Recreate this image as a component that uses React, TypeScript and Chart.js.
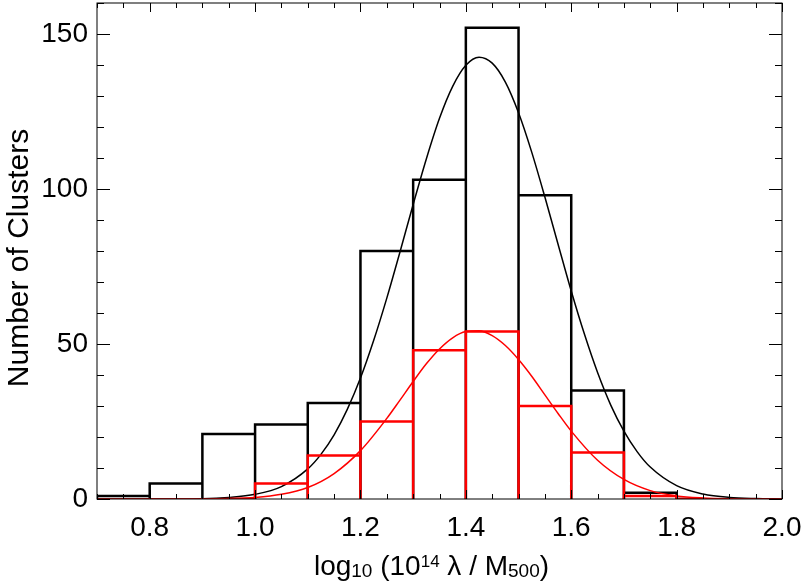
import React, { useEffect, useRef } from "react";
import { Chart, registerables } from "chart.js";

Chart.register(...registerables);

// ---- data ----
const totalEdges = [0.7, 0.8, 0.9, 1.0, 1.1, 1.2, 1.3, 1.4, 1.5, 1.6, 1.7, 1.8, 1.85];
const totalCounts = [1, 5, 21, 24, 31, 80, 103, 152, 98, 35, 2, 0];

const redEdges = [0.95, 1.0, 1.1, 1.2, 1.3, 1.4, 1.5, 1.6, 1.7, 1.8, 1.85];
const redCounts = [0, 5, 14, 25, 48, 54, 30, 15, 1, 0];

const totalFitX = [0.70, 0.80, 0.90, 0.95, 1.00, 1.05, 1.10, 1.125, 1.15, 1.175, 1.20, 1.225, 1.25, 1.275, 1.30, 1.325, 1.35, 1.375, 1.40, 1.425, 1.45, 1.475, 1.50, 1.525, 1.55, 1.575, 1.60, 1.625, 1.65, 1.675, 1.70, 1.725, 1.75, 1.80, 1.85, 1.90, 1.95, 2.00];
const totalFitY = [0, 0, 0.1, 0.5, 1.5, 4.0, 9.7, 14.4, 20.7, 28.9, 39.0, 51.1, 64.8, 79.7, 95.0, 109.7, 122.8, 133.1, 139.9, 142.5, 140.6, 134.5, 124.6, 111.9, 97.4, 82.2, 67.1, 53.2, 40.8, 30.3, 21.9, 15.3, 10.3, 4.3, 1.6, 0.5, 0.15, 0.04];

const redFitX = [0.70, 0.80, 0.90, 0.95, 1.00, 1.05, 1.10, 1.15, 1.20, 1.25, 1.275, 1.30, 1.325, 1.35, 1.375, 1.40, 1.425, 1.45, 1.475, 1.50, 1.525, 1.55, 1.575, 1.60, 1.65, 1.70, 1.75, 1.80, 1.85, 1.90, 1.95, 2.00];
const redFitY = [0, 0, 0.04, 0.16, 0.5, 1.5, 3.7, 8.2, 15.6, 26.0, 31.9, 37.9, 43.6, 48.4, 52.0, 54.0, 54.3, 52.7, 49.5, 45.0, 39.6, 33.6, 27.6, 21.9, 12.5, 6.3, 2.7, 1.0, 0.35, 0.1, 0.03, 0.01];

const xTickValues = [0.8, 1.0, 1.2, 1.4, 1.6, 1.8, 2.0];
const yTickValues = [0, 50, 100, 150];
const xMin = 0.7;
const xMax = 2.0;
const yMin = 0;
const yMax = 160;
const xMinorStep = 0.05;
const yMinorStep = 10;

const yTitle = "Number of Clusters";
// x title pieces: [text, kind] kind: n normal, sub subscript, sup superscript
const xTitleParts: [string, string][] = [
  ["log", "n"],
  ["10", "sub"],
  [" (10", "n"],
  ["14", "sup"],
  [" λ / M", "n"],
  ["500", "sub"],
  [")", "n"],
];

const FONT = "'Liberation Sans', Helvetica, Arial, sans-serif";

function boxPath(edges: number[], counts: number[]) {
  const pts: { x: number; y: number }[] = [];
  for (let i = 0; i < counts.length; i++) {
    pts.push({ x: edges[i], y: 0 });
    pts.push({ x: edges[i], y: counts[i] });
    pts.push({ x: edges[i + 1], y: counts[i] });
    pts.push({ x: edges[i + 1], y: 0 });
  }
  return pts;
}

function zip(xs: number[], ys: number[]) {
  return xs.map((x, i) => ({ x, y: ys[i] }));
}

const framePlugin = {
  id: "frameTicks",
  afterDraw(chart: any) {
    const { ctx, chartArea: a, scales } = chart;
    const xs = scales.x;
    const ys = scales.y;
    ctx.save();
    ctx.strokeStyle = "#000";
    ctx.lineWidth = 1;
    ctx.strokeRect(a.left, a.top, a.right - a.left, a.bottom - a.top);

    // x ticks (bottom & top, inward)
    const nx = Math.round((xMax - xMin) / xMinorStep);
    for (let i = 0; i <= nx; i++) {
      const v = xMin + i * xMinorStep;
      const major = xTickValues.some((t) => Math.abs(t - v) < 1e-6);
      const len = major ? 9 : 5;
      const px = Math.round(xs.getPixelForValue(v)) + 0.5;
      ctx.beginPath();
      ctx.moveTo(px, a.bottom);
      ctx.lineTo(px, a.bottom - len);
      ctx.moveTo(px, a.top);
      ctx.lineTo(px, a.top + len);
      ctx.stroke();
    }
    // y ticks (left & right, inward)
    const ny = Math.round((yMax - yMin) / yMinorStep);
    for (let i = 0; i <= ny; i++) {
      const v = yMin + i * yMinorStep;
      const major = yTickValues.some((t) => Math.abs(t - v) < 1e-6);
      const len = major ? 13 : 7;
      const py = Math.round(ys.getPixelForValue(v)) + 0.5;
      ctx.beginPath();
      ctx.moveTo(a.left, py);
      ctx.lineTo(a.left + len, py);
      ctx.moveTo(a.right, py);
      ctx.lineTo(a.right - len, py);
      ctx.stroke();
    }

    // y title
    ctx.fillStyle = "#000";
    ctx.font = `30px ${FONT}`;
    ctx.textAlign = "center";
    ctx.textBaseline = "alphabetic";
    ctx.save();
    ctx.translate(28, (a.top + a.bottom) / 2 + 7);
    ctx.rotate(-Math.PI / 2);
    ctx.fillText(yTitle, 0, 0);
    ctx.restore();

    // x title with sub/superscripts
    const base = 575;
    const sizes: Record<string, number> = { n: 28, sub: 19, sup: 17 };
    const offs: Record<string, number> = { n: 0, sub: 1.5, sup: -8.5 };
    let total = 0;
    for (const [t, k] of xTitleParts) {
      ctx.font = `${sizes[k]}px ${FONT}`;
      total += ctx.measureText(t).width;
    }
    let x = (a.left + a.right) / 2 - 8 - total / 2;
    ctx.textAlign = "left";
    for (const [t, k] of xTitleParts) {
      ctx.font = `${sizes[k]}px ${FONT}`;
      ctx.fillText(t, x, base + offs[k]);
      x += ctx.measureText(t).width;
    }
    ctx.restore();
  },
};

export default function App() {
  const ref = useRef<HTMLCanvasElement | null>(null);

  useEffect(() => {
    if (!ref.current) return;
    Chart.defaults.font.family = FONT;
    const chart = new Chart(ref.current, {
      type: "line",
      data: {
        datasets: [
          {
            label: "Red fit",
            data: zip(redFitX, redFitY),
            borderColor: "#ff0000",
            borderWidth: 1.5,
            pointRadius: 0,
            cubicInterpolationMode: "monotone",
            fill: false,
            order: 0,
          },
          {
            label: "Red histogram",
            data: boxPath(redEdges, redCounts),
            borderColor: "#ff0000",
            borderWidth: 2.5,
            pointRadius: 0,
            tension: 0,
            borderJoinStyle: "miter",
            fill: false,
            order: 1,
          },
          {
            label: "All fit",
            data: zip(totalFitX, totalFitY),
            borderColor: "#000000",
            borderWidth: 1.5,
            pointRadius: 0,
            cubicInterpolationMode: "monotone",
            fill: false,
            order: 2,
          },
          {
            label: "All histogram",
            data: boxPath(totalEdges, totalCounts),
            borderColor: "#000000",
            borderWidth: 2.5,
            pointRadius: 0,
            tension: 0,
            borderJoinStyle: "miter",
            fill: false,
            order: 3,
          },
        ],
      },
      options: {
        animation: false,
        responsive: false,
        events: [],
        layout: { padding: { left: 0, right: 23, top: 3, bottom: 0 } },
        plugins: {
          legend: { display: false },
          tooltip: { enabled: false },
          title: { display: false },
        },
        scales: {
          x: {
            type: "linear",
            min: xMin,
            max: xMax,
            grid: { display: false, drawTicks: false },
            border: { display: false },
            afterBuildTicks: (s: any) => {
              s.ticks = xTickValues.map((v) => ({ value: v }));
            },
            afterFit: (s: any) => {
              s.height = 84;
              s.paddingLeft = 0;
              s.paddingRight = 0;
            },
            ticks: {
              padding: 12,
              maxRotation: 0,
              autoSkip: false,
              color: "#000",
              font: { size: 28, family: FONT },
              callback: (v: any) => Number(v).toFixed(1),
            },
          },
          y: {
            type: "linear",
            min: yMin,
            max: yMax,
            grid: { display: false, drawTicks: false },
            border: { display: false },
            afterBuildTicks: (s: any) => {
              s.ticks = yTickValues.map((v) => ({ value: v }));
            },
            afterFit: (s: any) => {
              s.width = 97;
              s.paddingTop = 0;
              s.paddingBottom = 0;
            },
            ticks: {
              padding: 9,
              autoSkip: false,
              color: "#000",
              font: { size: 28, family: FONT },
              callback: (v: any) => String(v),
            },
          },
        },
      },
      plugins: [framePlugin],
    } as any);
    return () => chart.destroy();
  }, []);

  return (
    <div style={{ position: "fixed", left: 0, top: 0, width: 805, height: 583, background: "#fff" }}>
      <canvas ref={ref} width={805} height={583} style={{ display: "block", width: 805, height: 583 }} />
    </div>
  );
}
